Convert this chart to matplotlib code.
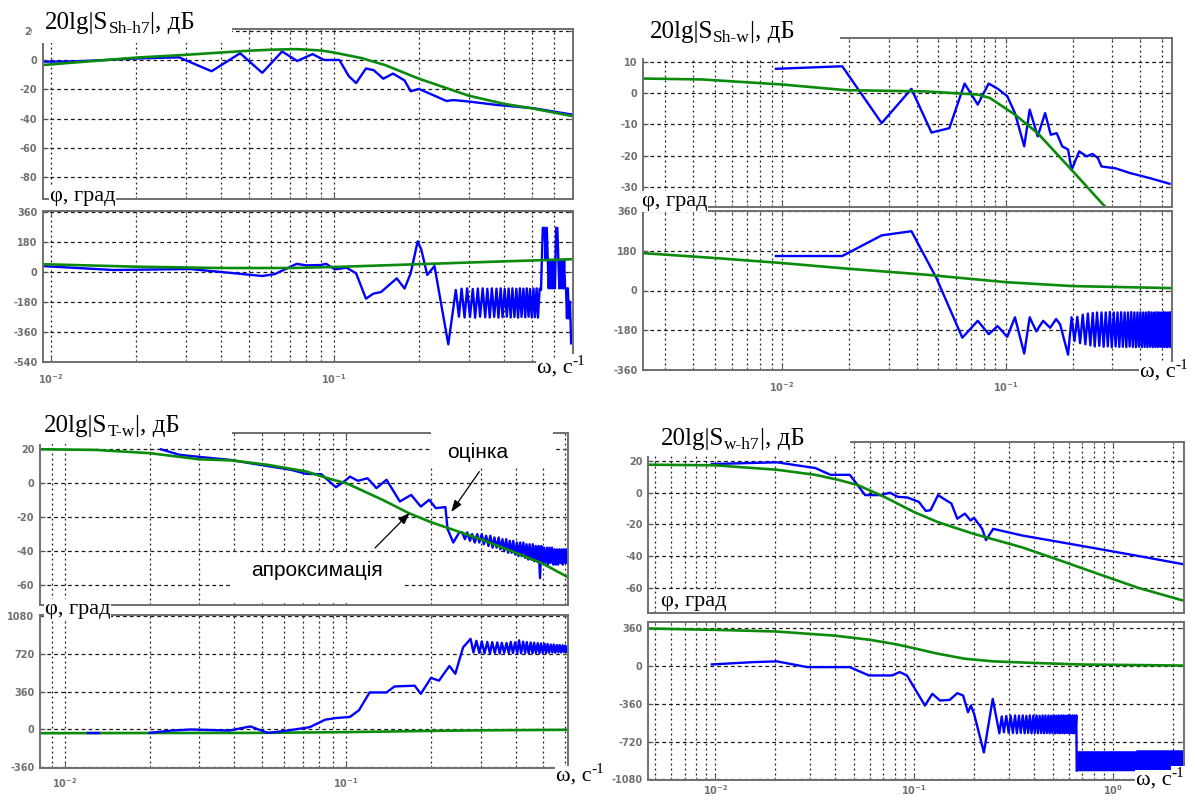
import numpy as np
import matplotlib
matplotlib.use('Agg')
import matplotlib.pyplot as plt
from matplotlib.patches import Rectangle
from matplotlib.ticker import LogLocator, NullFormatter

plt.rcParams['axes.unicode_minus'] = False
plt.rcParams['font.family'] = ['DejaVu Sans']

W, H = 1197, 800
BLUE = '#0000ff'
GREEN = '#0b8a0b'
SERIF = ['Liberation Serif', 'DejaVu Serif']

# ---------------- top-left: S_Sh-h7 ----------------
tl_mag_f_est = [0.0093, 0.012, 0.015, 0.02, 0.0284, 0.037, 0.0467, 0.0559, 0.0657, 0.0743,
                0.0842, 0.0924, 0.1047, 0.113, 0.12, 0.13, 0.1385, 0.1497, 0.162, 0.178,
                0.187, 0.2, 0.227, 0.25, 0.265, 0.30, 0.376, 0.51, 0.69]
tl_mag_est = [-1.2, -1.0, -0.2, 1.0, 1.8, -7.7, 4.6, -8.8, 5.8, -0.7,
              4.0, 0.0, 0.0, -11, -15.8, -5.8, -7, -12.8, -9.3, -14,
              -21.4, -19.8, -24.4, -28, -27.4, -28.4, -30.7, -33, -37.2]
tl_mag_f_apx = [0.0093, 0.02, 0.03, 0.04, 0.05, 0.06, 0.074, 0.09, 0.1, 0.126, 0.152, 0.2,
                0.3, 0.4, 0.5, 0.7]
tl_mag_apx = [-3.5, 1.6, 3.5, 5.1, 6.3, 7.0, 7.4, 6.5, 5.1, 1.2, -3.5, -12.8,
              -24.4, -30, -33, -38.4]

tl_ph_f_est = [0.0093, 0.0167, 0.031, 0.0425, 0.056, 0.062, 0.074, 0.08, 0.0898, 0.094,
               0.101, 0.111, 0.12, 0.13, 0.138, 0.147, 0.167, 0.178, 0.187, 0.198,
               0.204, 0.214, 0.227, 0.254, 0.270]
tl_ph_est = [34, 10, 16, -6, -26, -14, 47, 38, 40, 47,
             14, 24, -10, -162, -132, -122, -40, -101, -10, 182,
             132, -20, 34, -436, -110]
tl_ph_f_ring = [0.277, 0.283, 0.290, 0.296, 0.303, 0.310, 0.316, 0.323, 0.329, 0.336,
                0.343, 0.349, 0.356, 0.362, 0.369, 0.376, 0.382, 0.389, 0.395, 0.402,
                0.409, 0.415, 0.422, 0.428, 0.435, 0.442, 0.448, 0.455, 0.461, 0.468,
                0.475, 0.481, 0.488, 0.494, 0.501, 0.508, 0.514, 0.521, 0.527, 0.534]
tl_ph_ring = [-270, -102, -275, -100, -272, -104, -276, -101, -270, -100,
              -274, -103, -275, -100, -271, -102, -276, -100, -273, -104,
              -270, -101, -275, -100, -272, -103, -276, -100, -271, -102,
              -274, -100, -270, -104, -275, -101, -273, -100, -276, -102]
tl_ph_f_tail = [0.540, 0.548, 0.556, 0.561, 0.566, 0.575, 0.580, 0.585, 0.590, 0.595,
                0.600, 0.605, 0.611, 0.617, 0.622, 0.627, 0.632, 0.637, 0.642, 0.647,
                0.652, 0.657, 0.662, 0.667, 0.672, 0.678, 0.684, 0.690]
tl_ph_tail = [-110, 263, 263, 75, 263, -100, 71, -100, 71, -100,
              71, -100, 263, 263, 71, -100, 71, -100, 71, -100,
              71, -100, -100, -280, -100, -280, -180, -430]
tl_ph_f_apx = [0.0093, 0.02, 0.04, 0.07, 0.1, 0.2, 0.4, 0.7]
tl_ph_apx = [45, 30, 22, 22, 28, 45, 62, 75]

# ---------------- top-right: S_Sh-w ----------------
tr_mag_f_est = [0.0094, 0.0186, 0.0279, 0.0379, 0.0466, 0.056, 0.0655, 0.075, 0.0839, 0.0923,
                0.1016, 0.11, 0.121, 0.128, 0.139, 0.15, 0.159, 0.169, 0.179, 0.19,
                0.197, 0.213, 0.23, 0.244, 0.258, 0.268, 0.31, 0.36, 0.44, 0.54]
tr_mag_est = [7.7, 8.5, -9.6, 1.3, -12.6, -11.2, 3.0, -3.7, 3.0, 1.3,
              -1.0, -6.4, -17.0, -5.3, -13.8, -6.4, -13.3, -12.8, -17.0, -18.0,
              -24.5, -18.6, -20.2, -19.4, -20.7, -23.4, -24.0, -25.5, -27.1, -28.9]
tr_mag_f_apx = [0.0024, 0.0044, 0.01, 0.0193, 0.0435, 0.075, 0.085, 0.11, 0.139, 0.2, 0.278, 0.31]
tr_mag_apx = [4.6, 4.3, 2.7, 0.9, 0.5, -0.5, -1.6, -6.9, -12.8, -25, -36.2, -41]

tr_ph_f_est = [0.0094, 0.0186, 0.0279, 0.0379, 0.049, 0.064, 0.075, 0.084, 0.092, 0.1016,
               0.11, 0.121, 0.128, 0.137, 0.147, 0.158, 0.168, 0.175, 0.19, 0.197]
tr_ph_est = [157, 157, 251, 270, 57, -215, -138, -199, -162, -211,
             -122, -287, -122, -186, -138, -170, -130, -154, -292, -122]
tr_ph_f_ring = [0.203, 0.209, 0.215, 0.221, 0.227, 0.233, 0.239, 0.245, 0.250, 0.256,
                0.262, 0.268, 0.274, 0.280, 0.286, 0.292, 0.298, 0.304, 0.310, 0.316,
                0.322, 0.328, 0.334, 0.340, 0.346, 0.352, 0.358, 0.364, 0.370, 0.376,
                0.382, 0.388, 0.394, 0.400, 0.406, 0.412, 0.418, 0.424, 0.430, 0.436,
                0.442, 0.448, 0.454, 0.460, 0.466, 0.472, 0.478, 0.484, 0.490, 0.496,
                0.502, 0.508, 0.514, 0.520, 0.526, 0.532, 0.538, 0.544, 0.550]
tr_ph_ring = [-230, -120, -240, -110, -245, -105, -250, -102, -255, -100,
              -252, -100, -256, -100, -254, -98, -258, -100, -255, -100,
              -257, -99, -256, -100, -258, -100, -255, -98, -257, -100,
              -258, -100, -256, -99, -258, -100, -257, -100, -258, -98,
              -256, -100, -258, -100, -257, -99, -258, -100, -256, -100,
              -258, -98, -257, -100, -258, -100, -256, -99, -258]
tr_ph_f_apx = [0.0024, 0.005, 0.01, 0.0193, 0.044, 0.1, 0.2, 0.552]
tr_ph_apx = [170, 148, 125, 100, 72, 38, 20, 11]

# ---------------- bottom-left: S_T-w ----------------
bl_mag_f_est = [0.0219, 0.0256, 0.0309, 0.0384, 0.0494, 0.0635, 0.072, 0.0815, 0.0919, 0.1,
                0.103, 0.11, 0.119, 0.128, 0.139, 0.155, 0.17, 0.184, 0.197, 0.208,
                0.225, 0.229, 0.24, 0.252]
bl_mag_est = [20, 16.7, 15.3, 13.8, 10.8, 7.9, 5.5, 5.3, -2.4, 2.0,
              3.9, 1.4, 2.9, -2.9, 2.0, -10.8, -6.9, -13.8, -9.8, -14.7,
              -14.1, -27, -35, -29]
bl_mag_f_ring = [0.258, 0.264, 0.269, 0.275, 0.280, 0.286, 0.292, 0.297, 0.303, 0.308,
                 0.314, 0.320, 0.325, 0.331, 0.336, 0.342, 0.348, 0.353, 0.359, 0.364,
                 0.370, 0.376, 0.381, 0.387, 0.392, 0.398, 0.404, 0.409, 0.415, 0.420,
                 0.426, 0.432, 0.437, 0.443, 0.448, 0.454, 0.460, 0.465, 0.471, 0.476,
                 0.482, 0.488, 0.493, 0.499, 0.504, 0.510, 0.516, 0.521, 0.527, 0.532,
                 0.538, 0.544, 0.549, 0.555, 0.560, 0.566, 0.572, 0.577, 0.583, 0.588,
                 0.594, 0.600, 0.605, 0.611]
bl_mag_ring = [-29, -33, -29, -34, -30, -35, -30, -35, -30, -36,
               -31, -37, -31, -38, -32, -38, -32, -39, -33, -40,
               -33, -41, -34, -41, -34, -42, -35, -43, -35, -43,
               -35, -44, -36, -45, -36, -45, -36, -46, -37, -46,
               -37, -56, -37, -47, -38, -47, -38, -48, -38, -47,
               -38, -48, -39, -48, -39, -48, -39, -47, -39, -48,
               -39, -47, -39, -47]
bl_mag_f_apx = [0.0081, 0.0129, 0.02, 0.03, 0.0394, 0.0526, 0.072, 0.0895, 0.1, 0.1345,
                0.167, 0.2, 0.25, 0.3, 0.4, 0.5, 0.615]
bl_mag_apx = [20, 19.6, 17.7, 14.1, 13.4, 10.8, 6.9, 2.0, 0.0, -9.8,
              -17.7, -23, -28.5, -33, -41, -47.5, -55.5]

bl_ph_f_est0 = [0.0121, 0.0132]
bl_ph_est0 = [-30, -30]
bl_ph_f_est = [0.02, 0.024, 0.028, 0.0384, 0.0456, 0.0526, 0.0596, 0.0742, 0.0842, 0.0923,
               0.103, 0.111, 0.121, 0.139, 0.1484, 0.175, 0.184, 0.2, 0.2135, 0.2325,
               0.244, 0.26, 0.2765]
bl_ph_est = [-32, -10, 0, -10, 29, -32, -16, 22, 93, 109,
             119, 183, 351, 351, 408, 415, 338, 489, 463, 602,
             528, 778, 859]
bl_ph_f_ring = [0.283, 0.290, 0.297, 0.303, 0.310, 0.317, 0.324, 0.330, 0.337, 0.344,
                0.351, 0.357, 0.364, 0.371, 0.378, 0.384, 0.391, 0.398, 0.405, 0.411,
                0.418, 0.425, 0.432, 0.438, 0.445, 0.452, 0.459, 0.465, 0.472, 0.479,
                0.486, 0.492, 0.499, 0.506, 0.513, 0.519, 0.526, 0.533, 0.540, 0.546,
                0.553, 0.560, 0.567, 0.573, 0.580, 0.587, 0.594, 0.600, 0.607, 0.614]
bl_ph_ring = [730, 840, 725, 835, 722, 830, 720, 828, 724, 825,
              720, 822, 726, 820, 722, 830, 724, 826, 720, 845,
              722, 832, 725, 828, 720, 825, 723, 822, 726, 818,
              722, 815, 725, 812, 724, 810, 728, 805, 730, 805,
              728, 800, 732, 800, 730, 798, 734, 795, 735, 790]
bl_ph_f_apx = [0.0081, 0.05, 0.1, 0.18, 0.3, 0.615]
bl_ph_apx = [-35, -32, -25, -15, -8, -3]

# ---------------- bottom-right: S_w-h7 ----------------
br_mag_f_est = [0.0096, 0.0204, 0.0266, 0.0318, 0.038, 0.0475, 0.0567, 0.0678, 0.0756, 0.0829,
                0.0925, 0.1057, 0.1146, 0.121, 0.132, 0.1445, 0.154, 0.165, 0.18, 0.1925,
                0.2, 0.22, 0.23, 0.25, 0.35, 0.55, 0.86, 1.34, 2.28]
br_mag_est = [18.1, 19.2, 17, 15.6, 11.3, 11.3, -1.5, -1.5, 0, -2.6,
              -3, -5.8, -11.5, -11, -1.5, -4.7, -6.8, -16.4, -13.2, -17.5,
              -15.8, -22.8, -29.9, -22.8, -27, -31.3, -35.6, -39.9, -45.2]
br_mag_f_apx = [0.0046, 0.01, 0.0204, 0.0318, 0.0416, 0.0519, 0.0708, 0.1, 0.132, 0.2,
                0.35, 0.55, 0.86, 1.34, 2.28]
br_mag_apx = [17.7, 17.3, 14.5, 11.3, 8.1, 4.9, -2.6, -12.2, -18.6, -26,
              -34.5, -43, -51.6, -60, -68.2]

br_ph_f_est = [0.0096, 0.0156, 0.0204, 0.0291, 0.0475, 0.0592, 0.0774, 0.0846, 0.092, 0.1134,
               0.1235, 0.135, 0.151, 0.165, 0.1765, 0.1867, 0.193, 0.2, 0.2245, 0.2487,
               0.2686]
br_ph_est = [16, 38, 45, -10, -10, -89, -89, -57, -89, -376,
             -264, -328, -322, -258, -280, -440, -376, -449, -822, -312,
             -640]
br_ph_f_ring = [0.276, 0.283, 0.291, 0.299, 0.306, 0.314, 0.322, 0.329, 0.337, 0.344,
                0.352, 0.360, 0.367, 0.375, 0.382, 0.390, 0.398, 0.405, 0.413, 0.420,
                0.428, 0.436, 0.443, 0.451, 0.458, 0.466, 0.474, 0.481, 0.489, 0.496,
                0.504, 0.512, 0.519, 0.527, 0.534, 0.542, 0.550, 0.557, 0.565, 0.572,
                0.580, 0.588, 0.595, 0.603, 0.610, 0.618, 0.626, 0.633, 0.641, 0.648,
                0.655, 0.658]
br_ph_ring = [-480, -630, -475, -635, -472, -638, -470, -640, -472, -636,
              -470, -640, -474, -637, -470, -640, -472, -636, -470, -640,
              -473, -638, -470, -640, -471, -637, -470, -640, -473, -636,
              -470, -640, -472, -638, -470, -640, -471, -637, -470, -640,
              -473, -636, -470, -640, -472, -638, -470, -640, -471, -637,
              -470, -995]
# dense ringing above 0.66 rad/s looks like a solid band
br_ph_f_dense = [0.658, 1.30, 1.31, 2.28]
br_ph_dense_hi = [-806, -806, -797, -797]
br_ph_dense_lo = [-997, -997, -997, -997]
br_ph_f_apx = [0.0046, 0.01, 0.02, 0.04, 0.06, 0.08, 0.1, 0.13, 0.18, 0.25, 0.4, 0.7, 2.28]
br_ph_apx = [358, 345, 330, 290, 250, 210, 170, 120, 70, 45, 30, 15, 5]


fig = plt.figure(figsize=(W / 100, H / 100), dpi=100)
fig.patch.set_facecolor('white')

# overlay in pixel coordinates for the pasted-on captions
ov = fig.add_axes([0, 0, 1, 1], zorder=10)
ov.set_xlim(0, W)
ov.set_ylim(H, 0)
ov.axis('off')
renderer = fig.canvas.get_renderer()


def bode_axes(box, xlim, ylim, yticks, xlabels=False, xpad=7):
    x0, y0, x1, y1 = box
    ax = fig.add_axes([x0 / W, 1 - y1 / H, (x1 - x0) / W, (y1 - y0) / H])
    ax.set_xscale('log')
    ax.set_xlim(*xlim)
    ax.set_ylim(*ylim)
    ax.set_yticks(yticks)
    ax.xaxis.set_major_locator(LogLocator(base=10, numticks=12))
    ax.xaxis.set_minor_locator(LogLocator(base=10, subs=np.arange(2, 10), numticks=12))
    ax.xaxis.set_minor_formatter(NullFormatter())
    ax.grid(True, which='both', axis='x', color='#1a1a1a', ls=(0, (1.5, 2.5)), lw=0.9)
    ax.grid(True, which='major', axis='y', color='#1a1a1a', ls=(0, (3, 2.5)), lw=0.9)
    ax.set_axisbelow(True)
    for s in ax.spines.values():
        s.set_color('#6f6f6f')
        s.set_linewidth(1.4)
    ax.tick_params(which='both', direction='in', top=True, right=True,
                   color='#555555', labelcolor='#707070', labelsize=7, pad=4)
    ax.tick_params(which='major', length=3.5)
    ax.tick_params(which='minor', length=2)
    ax.tick_params(axis='x', pad=xpad, labelbottom=xlabels)
    for lab in ax.get_yticklabels() + ax.get_xticklabels():
        lab.set_fontweight('bold')
    return ax


def serif_label(x, y, parts):
    cur = x
    for text, size, dy in parts:
        t = ov.text(cur, y + dy, text, fontsize=size, family=SERIF,
                    va='baseline', ha='left', zorder=12)
        cur = t.get_window_extent(renderer).x1


def small_label(x, y, parts):
    cur = x
    for text, size, dy in parts:
        t = ov.text(cur, y + dy, text, fontsize=size, family=SERIF, va='baseline',
                    ha='left', zorder=12,
                    bbox=dict(fc='white', ec='none', pad=0.5))
        cur = t.get_window_extent(renderer).x1


# ---- top-left ----
ax = bode_axes((43, 28.5, 572.7, 199.3), (0.00939, 0.699), (-95.2, 21.5), [20, 0, -20, -40, -60, -80])
ax.plot(tl_mag_f_est, tl_mag_est, color=BLUE, lw=1.7)
ax.plot(tl_mag_f_apx, tl_mag_apx, color=GREEN, lw=1.9)
ax = bode_axes((43, 210.7, 572.7, 362), (0.00939, 0.699), (-542, 366),
               [360, 180, 0, -180, -360, -540], xlabels=True)
ax.plot(tl_ph_f_est + tl_ph_f_ring + tl_ph_f_tail, tl_ph_est + tl_ph_ring + tl_ph_tail,
        color=BLUE, lw=1.7)
ax.plot(tl_ph_f_apx, tl_ph_apx, color=GREEN, lw=1.9)

# ---- top-right ----
ax = bode_axes((643.3, 37.7, 1171.7, 207.3), (0.0024, 0.552), (-36.4, 17.6), [10, 0, -10, -20, -30])
ax.plot(tr_mag_f_est, tr_mag_est, color=BLUE, lw=1.7)
ax.plot(tr_mag_f_apx, tr_mag_apx, color=GREEN, lw=1.9)
ax = bode_axes((643.3, 211, 1171.7, 370), (0.0024, 0.552), (-362, 362),
               [360, 180, 0, -180, -360], xlabels=True)
ax.plot(tr_ph_f_est + tr_ph_f_ring, tr_ph_est + tr_ph_ring, color=BLUE, lw=1.7)
ax.plot(tr_ph_f_apx, tr_ph_apx, color=GREEN, lw=1.9)

# ---- bottom-left ----
ax_bl = bode_axes((40, 433.3, 568.3, 605), (0.00816, 0.615), (-71.8, 29.4), [20, 0, -20, -40, -60])
ax_bl.plot(bl_mag_f_est + bl_mag_f_ring, bl_mag_est + bl_mag_ring, color=BLUE, lw=1.7)
ax_bl.plot(bl_mag_f_apx, bl_mag_apx, color=GREEN, lw=1.9)
ax = bode_axes((40, 615, 568.3, 768), (0.00816, 0.615), (-365, 1085),
               [1080, 720, 360, 0, -360], xlabels=True, xpad=6)
ax.plot(bl_ph_f_apx, bl_ph_apx, color=GREEN, lw=1.9)
ax.plot(bl_ph_f_est0, bl_ph_est0, color=BLUE, lw=1.7)
ax.plot(bl_ph_f_est + bl_ph_f_ring, bl_ph_est + bl_ph_ring, color=BLUE, lw=1.7)

# ---- bottom-right ----
ax = bode_axes((648.3, 441.7, 1184, 613.3), (0.0046, 2.28), (-76.1, 32.2), [20, 0, -20, -40, -60])
ax.plot(br_mag_f_est, br_mag_est, color=BLUE, lw=1.7)
ax.plot(br_mag_f_apx, br_mag_apx, color=GREEN, lw=1.9)
ax = bode_axes((648.3, 622, 1184, 780), (0.0046, 2.28), (-1085, 420),
               [360, 0, -360, -720, -1080], xlabels=True, xpad=2.5)
ax.plot(br_ph_f_est + br_ph_f_ring, br_ph_est + br_ph_ring, color=BLUE, lw=1.7)
ax.fill_between(br_ph_f_dense, br_ph_dense_lo, br_ph_dense_hi, color=BLUE, lw=0)
ax.plot(br_ph_f_apx, br_ph_apx, color=GREEN, lw=1.9)

# ---- caption boxes and captions ----
for x, y, w, h in [(32, 3, 200, 40), (638, 20, 202, 38), (35, 403, 197, 41), (604, 425, 246, 31)]:
    ov.add_patch(Rectangle((x, y), w, h, fc='white', ec='none', zorder=11))

serif_label(45, 29, [('20lg|S', 18, 0), ('Sh-h7', 12.5, 4), ('|, дБ', 18, 0)])
serif_label(650, 38, [('20lg|S', 18, 0), ('Sh-w', 12.5, 4), ('|, дБ', 18, 0)])
serif_label(44, 432, [('20lg|S', 18, 0), ('T-w', 12.5, 4), ('|, дБ', 18, 0)])
serif_label(661, 445, [('20lg|S', 18, 0), ('w-h7', 12.5, 4), ('|, дБ', 18, 0)])

for x, y in [(50, 201), (642, 206), (45, 614), (661, 606)]:
    small_label(x, y, [('φ, град', 16, 0)])
for x, y in [(537, 373), (1140, 377), (556, 781), (1136, 785)]:
    small_label(x, y, [('ω, с', 16, 0), ('-1', 11, -8)])

# estimate / approximation callouts on the S_T-w magnitude plot
ax_bl.add_patch(Rectangle((431, 425), 122, 43, transform=ov.transData, fc='white', ec='none',
                          zorder=4, clip_on=False))
ax_bl.add_patch(Rectangle((231, 553), 171, 50, transform=ov.transData, fc='white', ec='none',
                          zorder=4, clip_on=False))
ax_bl.text(0.294, 18, 'оцінка', fontsize=15, family=['Liberation Sans', 'DejaVu Sans'],
           ha='center', va='center', zorder=5)
ax_bl.text(0.0786, -51.2, 'апроксимація', fontsize=15, family=['Liberation Sans', 'DejaVu Sans'],
           ha='center', va='center', zorder=5)
arrow = dict(arrowstyle='-|>,head_length=0.7,head_width=0.25', color='black', lw=0.9,
             shrinkA=0, shrinkB=0)
ax_bl.annotate('', xy=(0.236, -17), xytext=(0.297, 6.8), arrowprops=arrow, zorder=5,
               annotation_clip=False)
ax_bl.annotate('', xy=(0.168, -17.5), xytext=(0.1265, -38.2), arrowprops=arrow, zorder=5,
               annotation_clip=False)

fig.savefig('out.png', dpi=100, facecolor='white')
